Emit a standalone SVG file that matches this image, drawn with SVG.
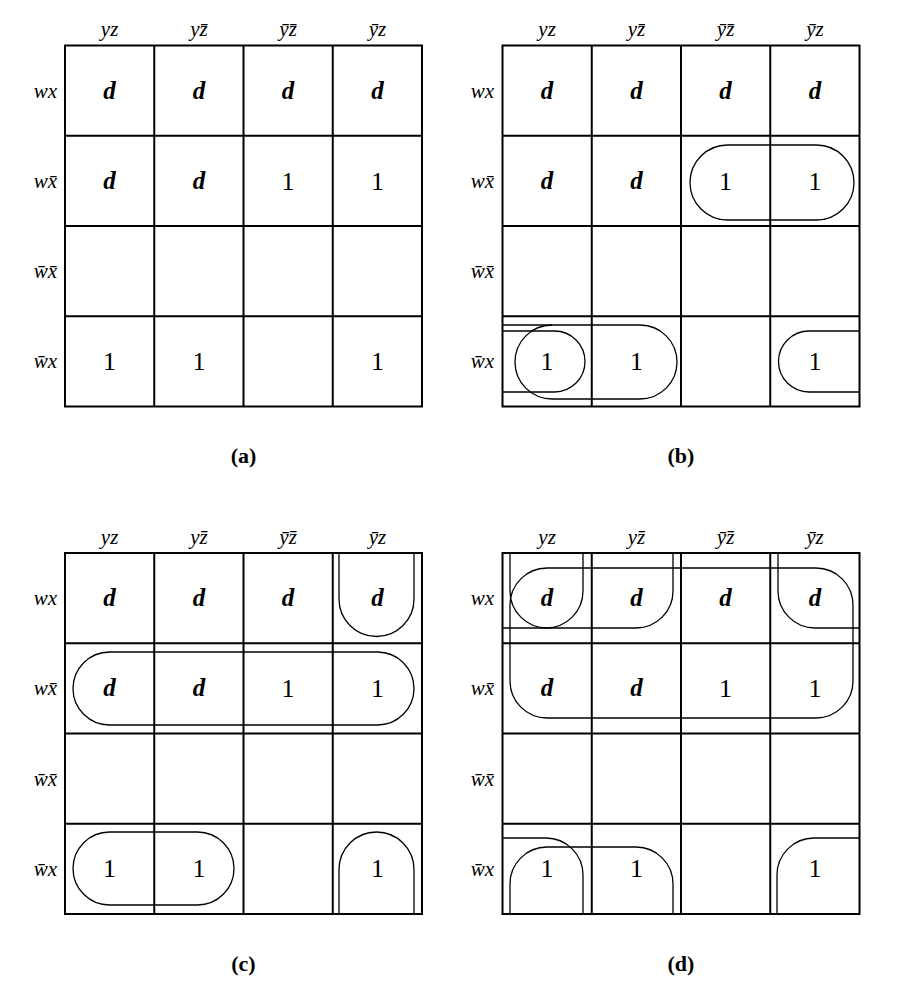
<svg xmlns="http://www.w3.org/2000/svg" xmlns:xlink="http://www.w3.org/1999/xlink" width="912" height="1003" viewBox="0 0 912 1003">
<style>
.g{fill:none;stroke:#000;stroke-width:2}
.l{fill:none;stroke:#000;stroke-width:1.3}
.lab{font-family:"Liberation Serif","DejaVu Serif",serif;font-style:italic;font-size:21px;fill:#000}
.cl{text-anchor:middle}
.rl{text-anchor:end}
.d{font-family:"Liberation Serif",serif;font-style:italic;font-weight:bold;font-size:25px;text-anchor:middle;fill:#000}
.o{font-family:"Liberation Serif",serif;font-size:26px;text-anchor:middle;fill:#000}
.cap{font-family:"Liberation Serif",serif;font-weight:bold;font-size:22px;text-anchor:middle;fill:#000}
</style>
<defs>
<g id="grid">
<rect class="g" x="0" y="0" width="357" height="361"/>
<path class="g" d="M89.25,0V361M178.5,0V361M267.75,0V361M0,90.25H357M0,180.5H357M0,270.75H357"/>
</g>
</defs>
<rect width="912" height="1003" fill="#fff"/>

<!-- Panel (a) -->
<g id="panel-a">
<use xlink:href="#grid" x="65" y="45.5"/>
<g class="lab cl">
<text x="109.6" y="36">yz</text>
<text x="198.9" y="36">yz&#x304;</text>
<text x="288.1" y="36">y&#x304;z&#x304;</text>
<text x="377.4" y="36">y&#x304;z</text>
</g>
<g class="lab rl">
<text x="57" y="98">wx</text>
<text x="57" y="188">wx&#x304;</text>
<text x="57" y="278">w&#x304;x&#x304;</text>
<text x="57" y="368">w&#x304;x</text>
</g>
<text class="d" x="109.6" y="98.6">d</text>
<text class="d" x="198.9" y="98.6">d</text>
<text class="d" x="288.1" y="98.6">d</text>
<text class="d" x="377.4" y="98.6">d</text>
<text class="d" x="109.6" y="188.9">d</text>
<text class="d" x="198.9" y="188.9">d</text>
<text class="o" x="288.1" y="189.5">1</text>
<text class="o" x="377.4" y="189.5">1</text>
<text class="o" x="109.6" y="370">1</text>
<text class="o" x="198.9" y="370">1</text>
<text class="o" x="377.4" y="370">1</text>
<text class="cap" x="243.5" y="463">(a)</text>
</g>

<!-- Panel (b) -->
<g id="panel-b">
<use xlink:href="#grid" x="502.5" y="45.5"/>
<g class="lab cl">
<text x="547.1" y="36">yz</text>
<text x="636.4" y="36">yz&#x304;</text>
<text x="725.6" y="36">y&#x304;z&#x304;</text>
<text x="814.9" y="36">y&#x304;z</text>
</g>
<g class="lab rl">
<text x="494" y="98">wx</text>
<text x="494" y="188">wx&#x304;</text>
<text x="494" y="278">w&#x304;x&#x304;</text>
<text x="494" y="368">w&#x304;x</text>
</g>
<text class="d" x="547.1" y="98.6">d</text>
<text class="d" x="636.4" y="98.6">d</text>
<text class="d" x="725.6" y="98.6">d</text>
<text class="d" x="814.9" y="98.6">d</text>
<text class="d" x="547.1" y="188.9">d</text>
<text class="d" x="636.4" y="188.9">d</text>
<text class="o" x="725.6" y="189.5">1</text>
<text class="o" x="814.9" y="189.5">1</text>
<text class="o" x="547.1" y="370">1</text>
<text class="o" x="636.4" y="370">1</text>
<text class="o" x="814.9" y="370">1</text>
<g id="loops-b">
<rect class="l" x="690" y="145" width="164" height="75" rx="37.5" ry="37.5"/>
<rect class="l" x="515" y="325" width="162" height="74" rx="37" ry="37"/>
<path class="l" d="M502.5,325H552"/>
<path class="l" d="M502.5,331H554.5A30.5,30.5 0 0 1 554.5,392H502.5"/>
<path class="l" d="M859.5,331H809A30.5,30.5 0 0 0 809,392H859.5"/>
</g>
<text class="cap" x="681" y="463">(b)</text>
</g>

<!-- Panel (c) -->
<g id="panel-c">
<use xlink:href="#grid" x="65" y="553"/>
<g class="lab cl">
<text x="109.6" y="543.5">yz</text>
<text x="198.9" y="543.5">yz&#x304;</text>
<text x="288.1" y="543.5">y&#x304;z&#x304;</text>
<text x="377.4" y="543.5">y&#x304;z</text>
</g>
<g class="lab rl">
<text x="57" y="605">wx</text>
<text x="57" y="695">wx&#x304;</text>
<text x="57" y="786">w&#x304;x&#x304;</text>
<text x="57" y="876">w&#x304;x</text>
</g>
<text class="d" x="109.6" y="606">d</text>
<text class="d" x="198.9" y="606">d</text>
<text class="d" x="288.1" y="606">d</text>
<text class="d" x="377.4" y="606">d</text>
<text class="d" x="109.6" y="696.3">d</text>
<text class="d" x="198.9" y="696.3">d</text>
<text class="o" x="288.1" y="697">1</text>
<text class="o" x="377.4" y="697">1</text>
<text class="o" x="109.6" y="877.4">1</text>
<text class="o" x="198.9" y="877.4">1</text>
<text class="o" x="377.4" y="877.4">1</text>
<g id="loops-c">
<path class="l" d="M339,553V599A37.5,37.5 0 0 0 414,599V553"/>
<rect class="l" x="73" y="652" width="341" height="73" rx="36.5" ry="36.5"/>
<rect class="l" x="73" y="832" width="161" height="73" rx="36.5" ry="36.5"/>
<path class="l" d="M339,914V869.5A37.5,37.5 0 0 1 414,869.5V914"/>
</g>
<text class="cap" x="243.5" y="970.5">(c)</text>
</g>

<!-- Panel (d) -->
<g id="panel-d">
<use xlink:href="#grid" x="502.5" y="553"/>
<g class="lab cl">
<text x="547.1" y="543.5">yz</text>
<text x="636.4" y="543.5">yz&#x304;</text>
<text x="725.6" y="543.5">y&#x304;z&#x304;</text>
<text x="814.9" y="543.5">y&#x304;z</text>
</g>
<g class="lab rl">
<text x="494" y="605">wx</text>
<text x="494" y="695">wx&#x304;</text>
<text x="494" y="786">w&#x304;x&#x304;</text>
<text x="494" y="876">w&#x304;x</text>
</g>
<text class="d" x="547.1" y="606">d</text>
<text class="d" x="636.4" y="606">d</text>
<text class="d" x="725.6" y="606">d</text>
<text class="d" x="814.9" y="606">d</text>
<text class="d" x="547.1" y="696.3">d</text>
<text class="d" x="636.4" y="696.3">d</text>
<text class="o" x="725.6" y="697">1</text>
<text class="o" x="814.9" y="697">1</text>
<text class="o" x="547.1" y="877.4">1</text>
<text class="o" x="636.4" y="877.4">1</text>
<text class="o" x="814.9" y="877.4">1</text>
<g id="loops-d">
<rect class="l" x="510" y="568" width="343" height="150" rx="37" ry="37"/>
<path class="l" d="M510,553V591A37,37 0 0 0 547,628H636A37,37 0 0 0 673,591V553"/>
<path class="l" d="M502.5,628H546A37,37 0 0 0 583,591V553"/>
<path class="l" d="M859.5,628H815A37,37 0 0 1 778,591V553"/>
<path class="l" d="M502.5,838H546A37,37 0 0 1 583,875V914"/>
<path class="l" d="M859.5,838H814A37,37 0 0 0 777,875V914"/>
<path class="l" d="M510,914V884A37,37 0 0 1 547,847H636A37,37 0 0 1 673,884V914"/>
</g>
<text class="cap" x="681" y="970.5">(d)</text>
</g>
</svg>
